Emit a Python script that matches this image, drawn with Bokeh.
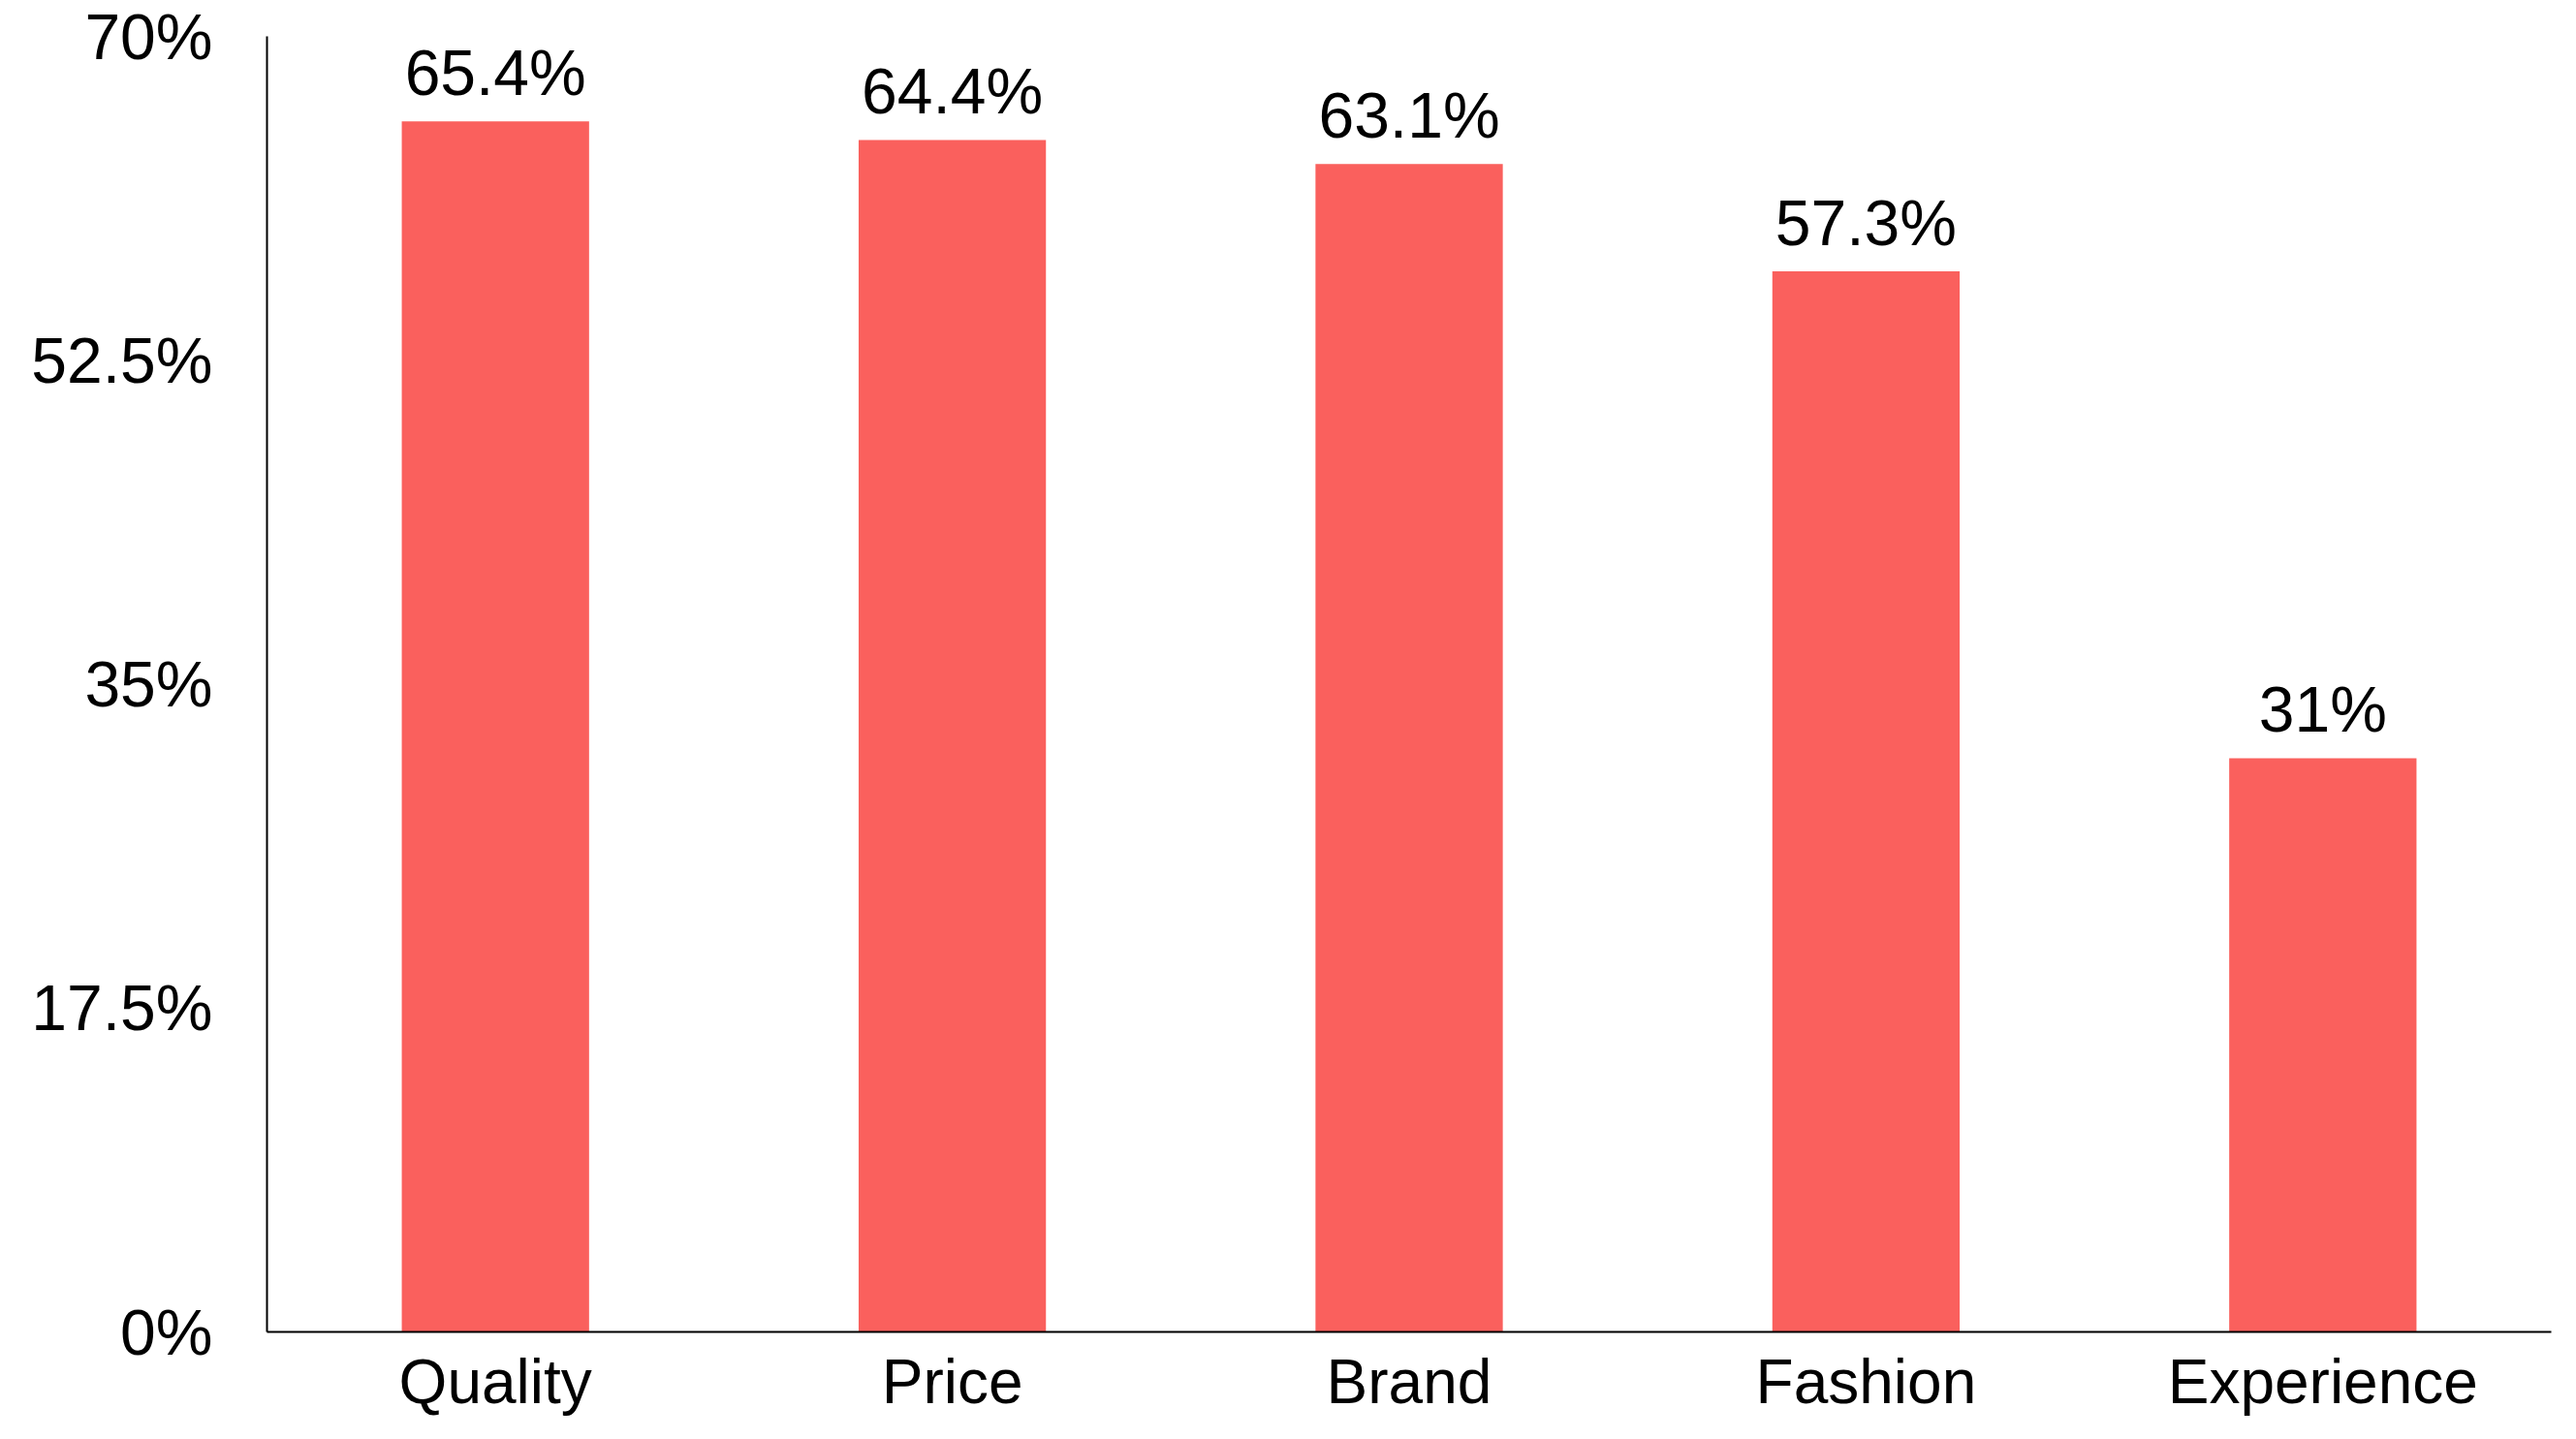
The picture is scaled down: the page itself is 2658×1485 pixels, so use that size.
from bokeh.plotting import figure
from bokeh.models import ColumnDataSource, FixedTicker, CustomJSTickFormatter, LabelSet, Range1d
from bokeh.core.properties import value
from bokeh.embed import file_html
from bokeh.resources import INLINE

categories = ["Quality", "Price", "Brand", "Fashion", "Experience"]
values = [65.4, 64.4, 63.1, 57.3, 31.0]
labels = ["65.4%", "64.4%", "63.1%", "57.3%", "31%"]
y_ticks = [0, 17.5, 35, 52.5, 70]

FONT = "Liberation Sans"
BAR = "#FA605D"

src = ColumnDataSource(dict(cat=categories, val=values, lab=labels))

p = figure(x_range=categories, y_range=Range1d(0, 70), width=2640, height=1469,
           output_backend="svg", toolbar_location=None,
           min_border_left=275, min_border_right=8, min_border_top=37, min_border_bottom=95)

p.vbar(x="cat", top="val", width=0.41, source=src, color=BAR, line_color=None)

p.add_layout(LabelSet(x="cat", y="val", text="lab", source=src, text_align="center",
                      text_baseline="bottom", y_offset=13, text_font=value(FONT),
                      text_font_size="66px", text_color="#000000"))

p.xgrid.grid_line_color = None
p.ygrid.grid_line_color = None
p.outline_line_color = None
p.background_fill_color = "white"
p.border_fill_color = "white"

p.yaxis.ticker = FixedTicker(ticks=y_ticks)
p.yaxis.formatter = CustomJSTickFormatter(code="return tick + '%';")
for ax in (p.xaxis, p.yaxis):
    ax.major_tick_line_color = None
    ax.minor_tick_line_color = None
    ax.axis_line_color = "#000000"
    ax.axis_line_width = 2
    ax.major_label_text_font = FONT
    ax.major_label_text_color = "#000000"
p.xaxis.major_label_text_font_size = "64px"
p.yaxis.major_label_text_font_size = "66px"
p.yaxis.major_label_standoff = 50
p.xaxis.major_label_standoff = 9

open("out.html", "w").write(file_html(p, INLINE))
